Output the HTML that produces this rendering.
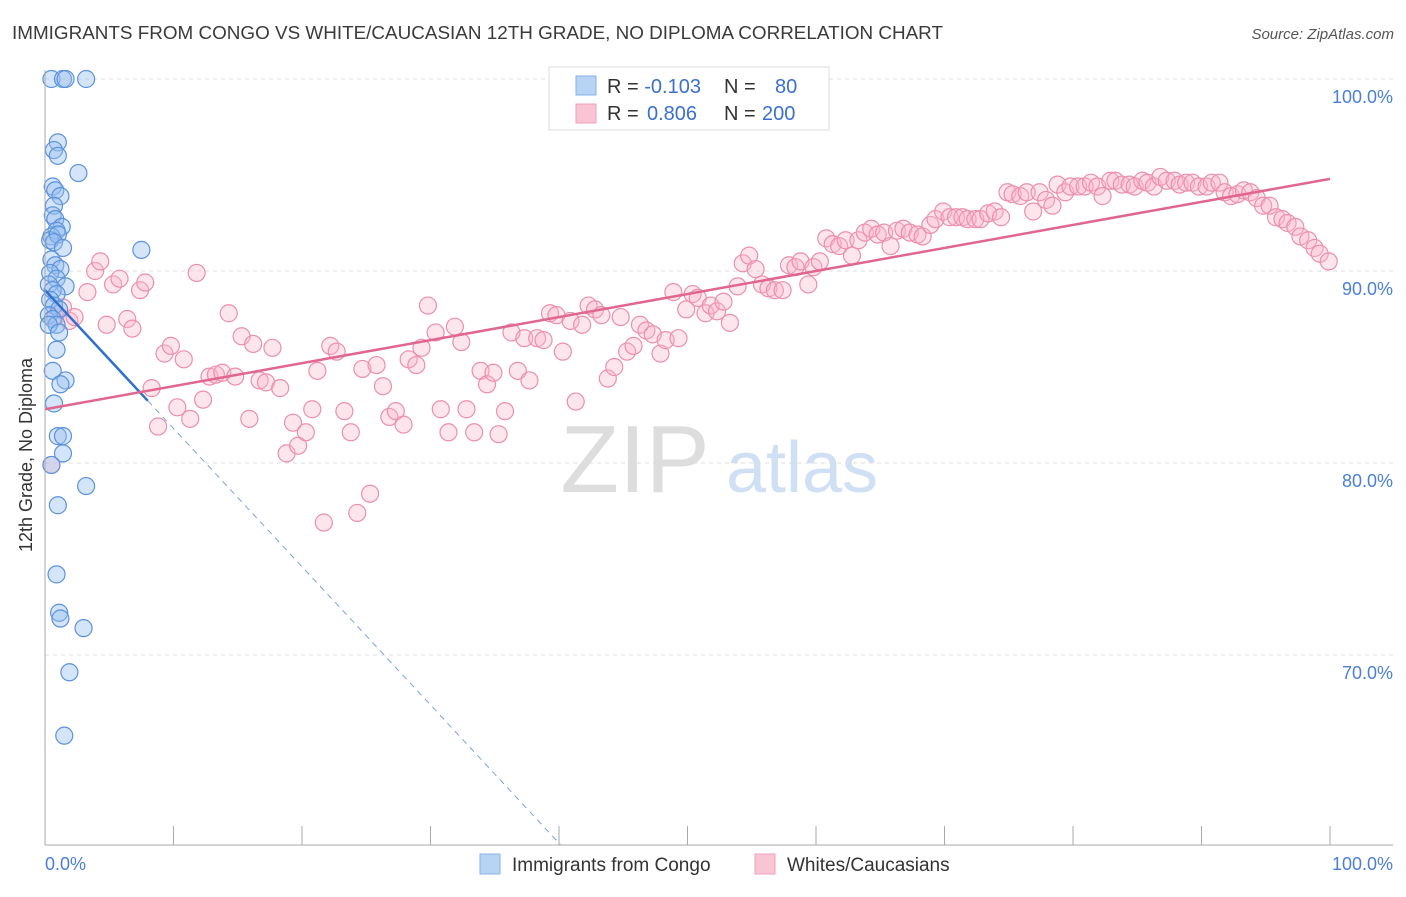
<!DOCTYPE html>
<html><head><meta charset="utf-8"><style>
body{margin:0;background:#fff;font-family:"Liberation Sans",sans-serif}
svg text{font-family:"Liberation Sans",sans-serif}
</style></head><body>
<svg id="chart" width="1406" height="892" xmlns="http://www.w3.org/2000/svg">
<text x="12" y="39" font-size="18" fill="#3a3a3a" textLength="931" lengthAdjust="spacingAndGlyphs">IMMIGRANTS FROM CONGO VS WHITE/CAUCASIAN 12TH GRADE, NO DIPLOMA CORRELATION CHART</text>
<text x="1394" y="39" font-size="15" fill="#555" text-anchor="end" font-style="italic">Source: ZipAtlas.com</text>
<text x="635" y="492" font-size="96" fill="#ddd" font-family="Liberation Serif" text-anchor="middle">ZIP</text>
<text x="802" y="492" font-size="72" fill="#cfe0f5" text-anchor="middle">atlas</text>
<g id="grid"></g><g id="ticks"></g>
<g id="pink"></g><g id="blue"></g><g id="trends"></g>
<line x1="45" y1="70" x2="45" y2="845" stroke="#aaa"/>
<line x1="45" y1="845" x2="1393" y2="845" stroke="#aaa"/>
<text x="32" y="455" font-size="18" fill="#333" text-anchor="middle" transform="rotate(-90 32 455)">12th Grade, No Diploma</text>
<text x="45" y="870" font-size="18" fill="#4a7fd6">0.0%</text>
<text x="1393" y="870" font-size="18" fill="#4a7fd6" text-anchor="end">100.0%</text>
<g>
<rect x="549" y="67" width="280" height="63" fill="#fff" stroke="#ddd"/>
<rect x="576" y="76" width="20" height="19" fill="#b9d3f5" stroke="#8ab2e8"/>
<rect x="576" y="104" width="20" height="19" fill="#f9c4d4" stroke="#f0a0b8"/>
<text x="607" y="93" font-size="20" fill="#333">R = <tspan fill="#3b6fd0">-0.103</tspan><tspan x="724">N = </tspan><tspan x="775" fill="#3b6fd0">80</tspan></text>
<text x="607" y="120" font-size="20" fill="#333">R = <tspan x="647" fill="#3b6fd0">0.806</tspan><tspan x="724">N = </tspan><tspan x="762" fill="#3b6fd0">200</tspan></text>
</g>
<g>
<rect x="480" y="854" width="20" height="20" fill="#b9d3f5" stroke="#8ab2e8"/>
<text x="512" y="871" font-size="19" fill="#333">Immigrants from Congo</text>
<rect x="755" y="854" width="20" height="20" fill="#f9c4d4" stroke="#f0a0b8"/>
<text x="787" y="871" font-size="19" fill="#333">Whites/Caucasians</text>
</g>
</svg>
<script>
const yTicks=[100,90,80,70];
const yTickLabels=["100.0%","90.0%","80.0%","70.0%"];
const xTicks=[10,20,30,40,50,60,70,80,90,100];
const blueX=[0.5,1.4,1.6,3.2,1.0,0.7,1.0,2.6,0.6,0.8,1.2,0.7,0.6,0.8,1.3,0.9,0.5,0.4,1.0,0.7,1.4,7.5,0.5,0.8,1.2,0.4,0.9,0.3,1.6,0.6,0.9,0.4,0.7,1.1,0.3,0.6,0.9,0.3,1.1,0.9,0.6,1.6,1.2,0.7,1.0,1.4,1.4,0.5,3.2,1.0,0.9,1.1,1.2,3.0,1.9,1.5];
const blueY=[100,100,100,100,96.7,96.3,96.0,95.1,94.4,94.2,93.9,93.4,92.9,92.7,92.3,92.1,91.8,91.6,91.9,91.5,91.2,91.1,90.6,90.3,90.1,89.9,89.6,89.3,89.2,89.0,88.8,88.5,88.2,88.0,87.7,87.5,87.2,87.2,86.8,85.9,84.8,84.3,84.1,83.1,81.4,81.4,80.5,79.9,78.8,77.8,74.2,72.2,71.9,71.4,69.1,65.8];
const pinkX=[0.5,0.8,1.4,1.9,2.3,3.3,3.9,4.3,4.8,5.3,5.8,6.4,6.8,7.4,7.8,8.3,8.8,9.3,9.8,10.3,10.8,11.3,11.8,12.3,12.8,13.3,13.8,14.3,14.8,15.3,15.9,16.2,16.7,17.2,17.7,18.3,18.8,19.3,19.7,20.3,20.8,21.2,21.7,22.2,22.7,23.3,23.8,24.3,24.7,25.3,25.8,26.3,26.8,27.3,27.9,28.3,28.9,29.3,29.8,30.4,30.8,31.4,31.9,32.4,32.8,33.4,33.9,34.4,34.9,35.3,35.8,36.3,36.8,37.3,37.7,38.3,38.8,39.3,39.8,40.3,40.9,41.3,41.8,42.3,42.8,43.3,43.8,44.3,44.8,45.3,45.8,46.3,46.8,47.3,47.9,48.3,48.9,49.3,49.9,50.4,50.8,51.4,51.8,52.3,52.8,53.3,53.9,54.3,54.8,55.3,55.8,56.3,56.8,57.4,57.9,58.4,58.8,59.4,59.8,60.3,60.8,61.3,61.8,62.3,62.8,63.3,63.8,64.3,64.8,65.3,65.8,66.3,66.8,67.3,67.9,68.3,68.9,69.3,69.9,70.4,70.9,71.4,71.8,72.4,72.8,73.4,73.9,74.4,74.9,75.3,75.9,76.4,76.9,77.4,77.9,78.4,78.8,79.4,79.8,80.4,80.9,81.4,81.9,82.3,82.9,83.3,83.8,84.4,84.8,85.4,85.8,86.3,86.8,87.3,87.9,88.3,88.8,89.3,89.8,90.4,90.8,91.4,91.8,92.3,92.8,93.3,93.8,94.3,94.8,95.3,95.8,96.3,96.7,97.3,97.7,98.3,98.8,99.2,99.9];
const pinkY=[79.9,87.6,88.1,87.4,87.6,88.9,90.0,90.5,87.2,89.3,89.6,87.5,87.0,89.0,89.4,83.9,81.9,85.7,86.1,82.9,85.4,82.3,89.9,83.3,84.5,84.6,84.7,87.8,84.5,86.6,82.3,86.2,84.3,84.2,86.0,83.9,80.5,82.1,80.9,81.6,82.8,84.8,76.9,86.1,85.8,82.7,81.6,77.4,84.9,78.4,85.1,84.0,82.4,82.7,82.0,85.4,85.1,86.0,88.2,86.8,82.8,81.6,87.1,86.3,82.8,81.6,84.8,84.1,84.7,81.5,82.7,86.8,84.8,86.5,84.3,86.5,86.4,87.8,87.7,85.8,87.4,83.2,87.2,88.2,88.0,87.7,84.4,85.0,87.6,85.8,86.1,87.2,86.9,86.7,85.7,86.4,88.9,86.5,88.0,88.8,88.6,87.8,88.2,87.9,88.4,87.3,89.2,90.4,90.8,90.1,89.3,89.1,89.0,89.0,90.3,90.2,90.5,89.3,90.2,90.5,91.7,91.4,91.3,91.6,90.8,91.6,92.0,92.2,91.9,92.0,91.3,92.1,92.2,92.0,91.9,91.8,92.4,92.7,93.1,92.8,92.8,92.8,92.7,92.7,92.7,93.0,93.1,92.8,94.1,94.0,93.9,94.1,93.1,94.1,93.7,93.4,94.5,94.1,94.4,94.4,94.4,94.6,94.4,93.9,94.7,94.7,94.5,94.5,94.4,94.7,94.6,94.4,94.9,94.7,94.7,94.5,94.6,94.6,94.4,94.4,94.6,94.6,94.1,93.9,94.0,94.2,94.1,93.8,93.4,93.4,92.8,92.7,92.5,92.3,91.8,91.6,91.2,90.9,90.5];
const blueTrend=[89.0,-0.72];
const pinkTrend=[82.8,94.8];
const NS="http://www.w3.org/2000/svg";
const sx=v=>45+v*12.85, sy=v=>79+(100-v)*19.2;
function mk(tag,parent,attrs){const e=document.createElementNS(NS,tag);for(const k in attrs)e.setAttribute(k,attrs[k]);document.getElementById(parent).appendChild(e);return e;}
yTicks.forEach((t,i)=>{
  const g=mk('line','grid',{x1:45,x2:1393,y1:sy(t),y2:sy(t),stroke:'#ddd','stroke-dasharray':'4,4'});
  
  
  const l=mk('text','grid',{x:1393,y:sy(t)+24,'font-size':18,fill:'#4a7fd6','text-anchor':'end'});
  l.textContent=yTickLabels[i];
  
  
});
xTicks.forEach(t=>{
  const k=mk('line','ticks',{x1:sx(t),x2:sx(t),y1:826,y2:845,stroke:'#aaa'});
  
  
});
pinkX.forEach((x,i)=>{
  const c=mk('circle','pink',{cx:sx(x),cy:sy(pinkY[i]),r:8.5,fill:'rgba(248,180,200,0.35)',stroke:'#ec8fad','stroke-width':1.2});
  
  
});
blueX.forEach((x,i)=>{
  const c=mk('circle','blue',{cx:sx(x),cy:sy(blueY[i]),r:8.5,fill:'rgba(150,190,240,0.4)',stroke:'#5b92dd','stroke-width':1.2});
  
  
});
const bEnd=8, bZero=(blueTrend[0]-60.1)/-blueTrend[1];
let t1=mk('line','trends',{x1:sx(0),y1:sy(blueTrend[0]),x2:sx(bEnd),y2:sy(blueTrend[0]+blueTrend[1]*bEnd),stroke:'#2f6fd0','stroke-width':2.5});


let t2=mk('line','trends',{x1:sx(bEnd),y1:sy(blueTrend[0]+blueTrend[1]*bEnd),x2:sx(bZero),y2:sy(60.1),stroke:'#7aa3e0','stroke-width':1,'stroke-dasharray':'6,5'});


let t3=mk('line','trends',{x1:sx(0),y1:sy(pinkTrend[0]),x2:sx(100),y2:sy(pinkTrend[1]),stroke:'#e0668f','stroke-width':2.5});


</script>
</body></html>
